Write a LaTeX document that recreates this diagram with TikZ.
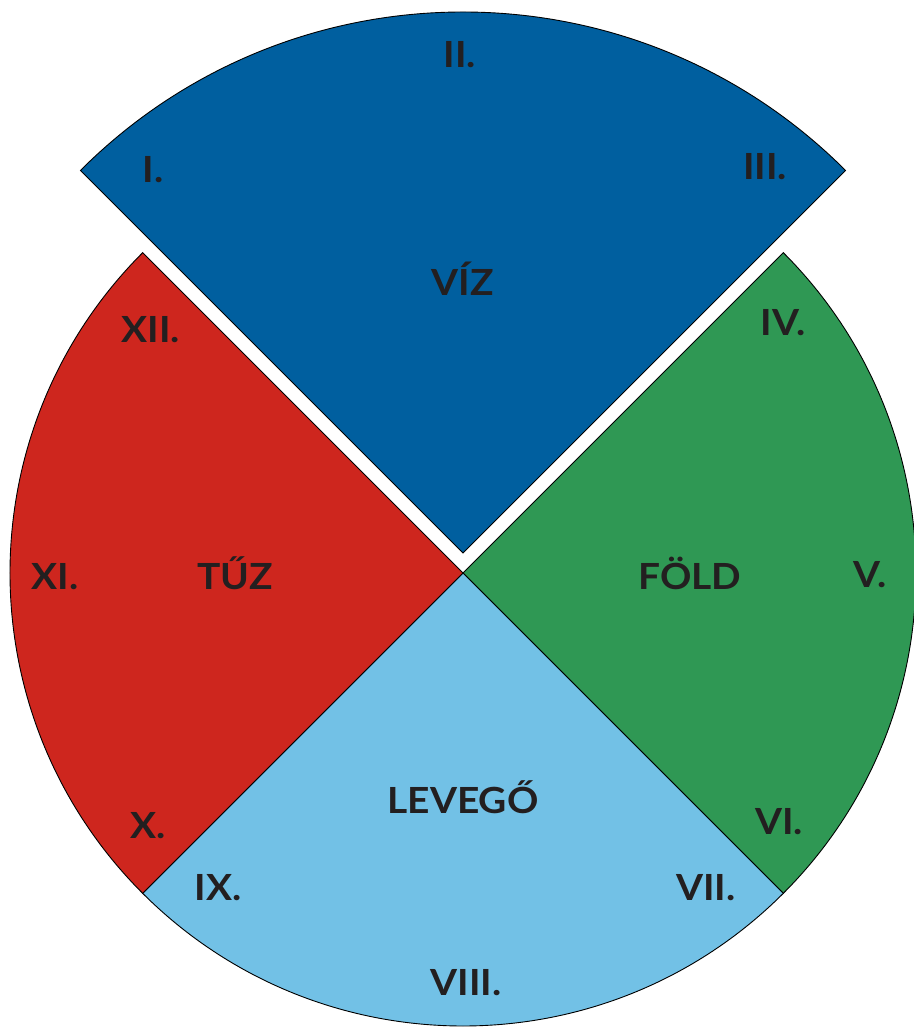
\documentclass[tikz,border=0pt]{standalone}
\usepackage{fontspec}
\setmainfont{Lato}[FakeStretch=1.08]
\usetikzlibrary{arrows.meta}

\definecolor{vizblue}{RGB}{0,95,159}
\definecolor{foldgreen}{RGB}{47,152,84}
\definecolor{tuzred}{RGB}{206,38,30}
\definecolor{levegoblue}{RGB}{114,193,230}
\definecolor{inkgray}{RGB}{35,31,32}

\tikzset{
  sector/.style={draw=black,line width=0.9pt,line join=miter},
  lbl/.style={text=inkgray,font=\fontsize{36}{40}\selectfont\bfseries,inner sep=0pt,text height=25pt,text depth=0pt},
}

\begin{document}
\begin{tikzpicture}[x=1pt,y=1pt,line join=bevel,]
%%
\useasboundingbox (-463,-454) rectangle (450,573);
  \fill[white] (-463,-454) rectangle (450,573);
  \draw [sector,fill=vizblue] (0,20) -- ++(45:541) arc[start angle=45,end angle=135,radius=541] -- cycle;
  \draw [sector,fill=foldgreen] (0,0) -- (-45:453) arc[start angle=-45,end angle=45,radius=453] -- cycle;
  \draw [sector,fill=levegoblue] (0,0) -- (-135:453) arc[start angle=-135,end angle=-45,radius=453] -- cycle;
  \draw [sector,fill=tuzred] (0,0) -- (135:453) arc[start angle=135,end angle=225,radius=453] -- cycle;
%
  \node (elem_viz) at (0,290) [lbl] {VÍZ};
  \node (elem_tuz) at (-228,-4) [lbl] {TŰZ};
  \node (elem_fold) at (227,-4) [lbl] {FÖLD};
  \node (elem_levego) at (0,-228) [lbl] {LEVEGŐ};
%
  \node (num_1) at (-310,403) [lbl] {I.};
  \node (num_2) at (-3,518) [lbl] {II.};
  \node (num_3) at (302,406) [lbl] {III.};
  \node (num_4) at (320,250) [lbl] {IV.};
  \node (num_5) at (407,-2) [lbl] {V.};
  \node (num_6) at (316,-249) [lbl] {VI.};
  \node (num_7) at (243,-315) [lbl] {VII.};
  \node (num_8) at (3,-410) [lbl] {VIII.};
  \node (num_9) at (-245,-315) [lbl] {IX.};
  \node (num_10) at (-315,-253) [lbl] {X.};
  \node (num_11) at (-408,-4) [lbl] {XI.};
  \node (num_12) at (-312,243) [lbl] {XII.};
%
\end{tikzpicture}
\end{document}
